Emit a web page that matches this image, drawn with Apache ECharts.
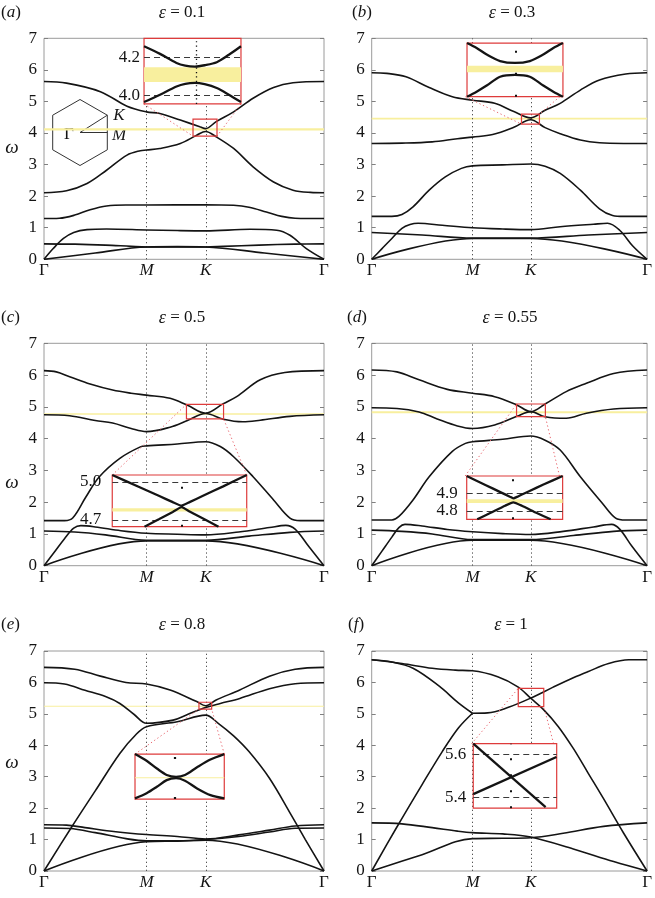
<!DOCTYPE html>
<html><head><meta charset="utf-8">
<script src="https://cdn.jsdelivr.net/npm/echarts@6/dist/echarts.min.js"></script>
<style>html,body{margin:0;padding:0;background:#fff}#c{width:655px;height:898px}</style>
</head><body><div id="c"></div>
<script>
// ---------- path & ticks ----------
const XMAX = 1 + Math.sqrt(3);      // Γ→M (1) + M→K (1/√3) + K→Γ (2/√3)
const KPOS = 1 + 1 / Math.sqrt(3);
const pathTicks = [0, 1, KPOS, XMAX];
const pathNames = ['Γ', 'M', 'K', 'Γ'];
const epsValues = ['0.1', '0.3', '0.5', '0.55', '0.8', '1'];
const panelLetters = ['a', 'b', 'c', 'd', 'e', 'f'];

// ---------- panel (a) ε=0.1 ----------
const a_b1 = [[0,0],[0.5,0.2],[1,0.39],[1.3,0.4],[1.577,0.39],[2.15,0.2],[2.732,0]];
const a_b2 = [[0,0.49],[0.3,0.48],[0.6,0.45],[0.85,0.41],[1,0.39],[1.577,0.39],[1.75,0.41],[2.1,0.45],[2.45,0.48],[2.732,0.49]];
const a_b3 = [[0,0],[0.09,0.34],[0.19,0.66],[0.29,0.85],[0.42,0.94],[0.61,0.96],[1,0.93],[1.3,0.91],[1.577,0.9],[2.01,0.95],[2.27,0.92],[2.4,0.76],[2.56,0.34],[2.732,0]];
const a_b4 = [[0,1.29],[0.15,1.3],[0.3,1.4],[0.45,1.57],[0.61,1.69],[0.8,1.72],[1,1.72],[1.577,1.73],[1.85,1.71],[2.0,1.65],[2.17,1.5],[2.32,1.36],[2.45,1.3],[2.732,1.29]];
const a_b5 = [[0,2.11],[0.22,2.17],[0.42,2.4],[0.61,2.82],[0.81,3.3],[0.94,3.44],[1,3.46],[1.13,3.51],[1.33,3.67],[1.49,3.93],[1.577,4.05],[1.68,3.88],[1.85,3.51],[2.04,2.93],[2.24,2.45],[2.43,2.19],[2.6,2.12],[2.732,2.11]];
const a_b6 = [[0,5.63],[0.22,5.58],[0.55,5.31],[0.81,4.85],[1,4.67],[1.13,4.62],[1.33,4.41],[1.52,4.2],[1.577,4.14],[1.68,4.36],[1.85,4.67],[2.04,5.1],[2.24,5.44],[2.43,5.59],[2.732,5.63]];
const a_gap = [4.08, 4.15];
const a_zoomUp = [[-1,4.26],[-0.67,4.22],[-0.33,4.172],[-0.15,4.158],[0.05,4.153],[0.25,4.16],[0.5,4.176],[0.75,4.215],[1,4.26]];
const a_zoomLo = [[-1,3.966],[-0.67,4.005],[-0.33,4.048],[-0.15,4.062],[0.05,4.067],[0.25,4.06],[0.5,4.04],[0.75,4.005],[1,3.966]];
const a_zoomGap = [4.072, 4.150];
const a_zoomTicks = [4.0, 4.2];

// ---------- panel (b) ε=0.3 ----------
const b_b1 = [[0,0],[1,0.66],[1.577,0.66],[2.732,0]];
const b_b2 = [[0,0.85],[0.5,0.77],[1,0.67],[1.577,0.67],[2.15,0.77],[2.732,0.85]];
const b_b3 = [[0,0],[0.1,0.33],[0.2,0.66],[0.3,0.98],[0.38,1.1],[0.46,1.14],[0.7,1.08],[1,1.0],[1.3,0.96],[1.577,0.94],[1.87,1.03],[2.2,1.11],[2.34,1.14],[2.46,0.92],[2.59,0.42],[2.732,0]];
const b_b4 = [[0,1.36],[0.2,1.36],[0.3,1.42],[0.41,1.66],[0.57,2.19],[0.73,2.61],[0.89,2.88],[1,2.96],[1.3,2.99],[1.577,3.02],[1.72,2.95],[1.87,2.72],[2.07,2.19],[2.26,1.6],[2.39,1.39],[2.5,1.36],[2.732,1.36]];
const b_b5 = [[0,3.67],[0.3,3.68],[0.6,3.72],[0.85,3.82],[1,3.87],[1.2,3.95],[1.41,4.18],[1.577,4.42],[1.72,4.17],[1.87,3.98],[2.07,3.78],[2.26,3.69],[2.5,3.67],[2.732,3.67]];
const b_b6 = [[0,5.91],[0.15,5.89],[0.34,5.78],[0.57,5.44],[0.8,5.15],[1,5.04],[1.22,4.94],[1.41,4.68],[1.577,4.48],[1.72,4.72],[1.87,4.94],[2.07,5.36],[2.26,5.68],[2.52,5.87],[2.732,5.91]];
const b_gap = [4.43, 4.48];
const b_zoomUp = [[-1,4.54],[-0.8,4.527],[-0.59,4.51],[-0.31,4.493],[0,4.488],[0.31,4.493],[0.59,4.51],[0.8,4.527],[1,4.54]];
const b_zoomLo = [[-1,4.40],[-0.8,4.413],[-0.59,4.429],[-0.31,4.452],[0,4.457],[0.31,4.452],[0.59,4.429],[0.8,4.413],[1,4.40]];
const b_zoomGap = [4.464, 4.481];
const b_zoomTicks = [];

// ---------- panel (c) ε=0.5 ----------
const c_b1 = [[0,0],[1,0.78],[1.577,0.78],[2.732,0]];
const c_b2 = [[0,1.09],[0.3,1.06],[0.6,0.97],[1,0.8],[1.577,0.8],[2.0,0.93],[2.4,1.05],[2.732,1.09]];
const c_b3 = [[0,0],[0.1,0.42],[0.2,0.85],[0.29,1.18],[0.36,1.26],[0.5,1.22],[0.75,1.1],[1,1.02],[1.3,0.99],[1.577,0.97],[1.9,1.06],[2.2,1.2],[2.36,1.27],[2.45,1.15],[2.58,0.62],[2.732,0]];
const c_b4 = [[0,1.42],[0.2,1.42],[0.28,1.5],[0.41,2.17],[0.54,2.8],[0.74,3.38],[0.94,3.74],[1,3.77],[1.3,3.83],[1.577,3.9],[1.72,3.75],[1.85,3.43],[2.04,2.8],[2.24,2.07],[2.4,1.5],[2.5,1.42],[2.732,1.42]];
const c_b5 = [[0,4.75],[0.25,4.72],[0.5,4.57],[0.67,4.49],[0.85,4.32],[1,4.22],[1.23,4.36],[1.4,4.57],[1.577,4.79],[1.75,4.61],[1.94,4.53],[2.11,4.58],[2.4,4.7],[2.732,4.75]];
const c_b6 = [[0,6.14],[0.12,6.1],[0.25,5.95],[0.45,5.72],[0.67,5.53],[0.85,5.43],[1,5.37],[1.23,5.27],[1.4,5.05],[1.577,4.8],[1.75,5.1],[1.88,5.32],[2.11,5.85],[2.35,6.08],[2.732,6.14]];
const c_gap = [4.75, 4.80];
const c_zoomUp = [[-1,5.055],[-0.6,4.96],[-0.3,4.888],[-0.1,4.84],[0.03,4.812],[0.15,4.84],[0.35,4.89],[0.65,4.965],[1,5.055]];
const c_zoomLo = [[-0.52,4.645],[-0.3,4.706],[-0.1,4.762],[0.03,4.8],[0.15,4.766],[0.35,4.71],[0.58,4.645]];
const c_zoomGap = [4.765, 4.792];
const c_zoomTicks = [4.7, 5.0];

// ---------- panel (d) ε=0.55 ----------
const d_b1 = [[0,0],[1,0.8],[1.577,0.8],[2.732,0]];
const d_b2 = [[0,1.12],[0.3,1.08],[0.6,1.0],[1,0.82],[1.577,0.82],[2.0,0.95],[2.4,1.08],[2.732,1.12]];
const d_b3 = [[0,0],[0.1,0.45],[0.2,0.9],[0.27,1.2],[0.33,1.3],[0.5,1.25],[0.75,1.14],[1,1.07],[1.3,1.01],[1.577,0.98],[1.9,1.08],[2.2,1.22],[2.38,1.3],[2.46,1.15],[2.58,0.62],[2.732,0]];
const d_b4 = [[0,1.44],[0.2,1.44],[0.27,1.55],[0.41,2.07],[0.57,2.8],[0.8,3.6],[0.93,3.85],[1,3.9],[1.3,3.98],[1.577,4.08],[1.72,3.95],[1.87,3.64],[2.07,2.8],[2.29,1.96],[2.42,1.5],[2.52,1.44],[2.732,1.44]];
const d_b5 = [[0,4.97],[0.25,4.95],[0.47,4.84],[0.65,4.62],[0.85,4.4],[1,4.32],[1.22,4.43],[1.44,4.7],[1.577,4.85],[1.72,4.69],[1.93,4.64],[2.13,4.8],[2.4,4.93],[2.732,4.97]];
const d_b6 = [[0,6.16],[0.25,6.1],[0.47,5.85],[0.75,5.55],[1,5.43],[1.22,5.32],[1.44,5.06],[1.577,4.85],[1.72,5.09],[1.93,5.48],[2.13,5.74],[2.4,6.05],[2.732,6.16]];
const d_gap = [4.80, 4.86];
const d_zoomUp = [[-1,4.998],[-0.6,4.946],[-0.3,4.907],[-0.1,4.881],[-0.03,4.872],[0.05,4.88],[0.3,4.912],[0.6,4.95],[1,4.998]];
const d_zoomLo = [[-0.78,4.753],[-0.5,4.79],[-0.2,4.83],[-0.03,4.849],[0.15,4.83],[0.45,4.79],[0.75,4.753]];
const d_zoomGap = [4.845, 4.866];
const d_zoomTicks = [4.8, 4.9];

// ---------- panel (e) ε=0.8 ----------
const e_b1 = [[0,0],[1,0.93],[1.3,0.95],[1.577,0.98],[2.732,0]];
const e_b2 = [[0,1.47],[0.22,1.46],[0.4,1.38],[0.7,1.25],[1,1.16],[1.3,1.1],[1.577,1.02],[1.9,1.15],[2.2,1.3],[2.45,1.43],[2.732,1.47]];
const e_b3 = [[0,1.37],[0.25,1.35],[0.5,1.22],[0.8,1.03],[1,0.96],[1.3,0.96],[1.577,1.0],[1.9,1.1],[2.2,1.24],[2.45,1.36],[2.732,1.37]];
const e_b4 = [[0,0],[0.27,1.4],[0.5,2.55],[0.74,3.74],[0.9,4.35],[1,4.59],[1.3,4.75],[1.577,4.96],[1.7,4.7],[1.85,4.3],[2.0,3.8],[2.2,2.95],[2.4,1.85],[2.55,1.0],[2.732,0]];
const e_b5 = [[0,5.99],[0.2,5.95],[0.4,5.75],[0.6,5.55],[0.74,5.33],[0.88,4.98],[1,4.7],[1.26,4.8],[1.4,4.98],[1.577,5.2],[1.72,5.33],[1.91,5.49],[2.2,5.8],[2.45,5.96],[2.732,5.99]];
const e_b6 = [[0,6.48],[0.3,6.42],[0.55,6.2],[0.8,6.0],[1,5.95],[1.23,5.76],[1.49,5.39],[1.577,5.26],[1.68,5.44],[1.91,5.76],[2.2,6.2],[2.45,6.42],[2.732,6.48]];
const e_gap = [5.225, 5.255];
const e_zoomUp = [[-1,5.30],[-0.74,5.279],[-0.51,5.255],[-0.29,5.235],[-0.08,5.229],[0.12,5.235],[0.39,5.259],[0.69,5.283],[1,5.30]];
const e_zoomLo = [[-1,5.162],[-0.74,5.178],[-0.51,5.198],[-0.29,5.219],[-0.08,5.225],[0.12,5.217],[0.39,5.193],[0.69,5.172],[1,5.162]];
const e_zoomGap = [5.2245, 5.2275];
const e_zoomTicks = [];

// ---------- panel (f) ε=1 ----------
const f_b1 = [[0,0],[0.5,0.52],[1,1.03],[1.3,1.04],[1.577,1.06],[1.9,1.2],[2.3,1.42],[2.732,1.53]];
const f_b2 = [[0,1.53],[0.3,1.5],[0.6,1.38],[0.85,1.27],[1,1.22],[1.3,1.18],[1.577,1.08],[2.0,0.7],[2.4,0.3],[2.732,0]];
const f_b3 = [[0,0],[0.25,1.4],[0.5,2.75],[0.7,3.8],[0.86,4.55],[1,5.02]];
const f_b4 = [[0,6.72],[0.2,6.65],[0.41,6.45],[0.67,5.88],[0.86,5.35],[1,5.02]];
const f_b5 = [[1,5.02],[1.15,5.03],[1.35,5.2],[1.577,5.5],[1.8,5.85],[2.0,6.15],[2.15,6.35],[2.35,6.6],[2.55,6.72],[2.732,6.72]];
const f_b6 = [[0,6.72],[0.3,6.6],[0.6,6.45],[0.83,6.39],[1,6.37],[1.25,6.18],[1.45,5.86],[1.577,5.5],[1.7,5.15],[1.85,4.6],[2.0,3.9],[2.15,3.1],[2.3,2.3],[2.5,1.2],[2.732,0]];
const f_gap = null;
const f_zoomUp = [[-1,5.648],[0.735,5.354]];
const f_zoomLo = [[-1,5.414],[0.995,5.586]];
const f_zoomGap = null;
const f_zoomTicks = [5.4, 5.6];

// ---------- assemble (styling / layout below) ----------
const panels = [
  {bands:[a_b1,a_b2,a_b3,a_b4,a_b5,a_b6], gap:a_gap, zUp:a_zoomUp, zLo:a_zoomLo, zGap:a_zoomGap, zTicks:a_zoomTicks},
  {bands:[b_b1,b_b2,b_b3,b_b4,b_b5,b_b6], gap:b_gap, zUp:b_zoomUp, zLo:b_zoomLo, zGap:b_zoomGap, zTicks:b_zoomTicks},
  {bands:[c_b1,c_b2,c_b3,c_b4,c_b5,c_b6], gap:c_gap, zUp:c_zoomUp, zLo:c_zoomLo, zGap:c_zoomGap, zTicks:c_zoomTicks},
  {bands:[d_b1,d_b2,d_b3,d_b4,d_b5,d_b6], gap:d_gap, zUp:d_zoomUp, zLo:d_zoomLo, zGap:d_zoomGap, zTicks:d_zoomTicks},
  {bands:[e_b1,e_b2,e_b3,e_b4,e_b5,e_b6], gap:e_gap, zUp:e_zoomUp, zLo:e_zoomLo, zGap:e_zoomGap, zTicks:e_zoomTicks},
  {bands:[f_b1,f_b2,f_b3,f_b4,f_b5,f_b6], gap:f_gap, zUp:f_zoomUp, zLo:f_zoomLo, zGap:f_zoomGap, zTicks:f_zoomTicks}
];

// layout (pixels) of the six main plots
const layout = [
  {left:44, top:38.3, width:280, height:221},
  {left:371.7, top:38.3, width:280, height:221},
  {left:44, top:343.3, width:280, height:222.4},
  {left:371.7, top:343.3, width:280, height:222.4},
  {left:44, top:651, width:280, height:220},
  {left:371.7, top:651, width:280, height:220}
];
// inset placement (in main-plot data units), inset axis range, zoom box, connector corners
const insetLayout = [
  {px:[0.976,1.922], py:[4.92,7.0], yr:[3.956,4.302], bx:[1.454,1.688], by:[3.90,4.44], conn:[['BL','BL'],['BR','BR']], cx:0.07, dot:[1.2,3.2], dw:1.3, lm:4, smooth:0.3},
  {px:[0.93,1.866], py:[5.15,6.85], yr:[4.40,4.54], bx:[1.486,1.664], by:[4.28,4.60], conn:[['BL','BL'],['BR','TR']], cx:0.02, dot:[2,20], dw:2, lm:4, smooth:0.3},
  {px:[0.666,1.978], py:[1.228,2.855], yr:[4.645,5.055], bx:[1.39,1.752], by:[4.62,5.08], conn:[['TL','TL'],['TR','BR']], cx:0.04, dot:[2,17], dw:2, lm:11, smooth:0.15},
  {px:[0.927,1.863], py:[1.46,2.823], yr:[4.753,4.998], bx:[1.437,1.723], by:[4.69,5.09], conn:[['TL','TL'],['TR','BR']], cx:-0.03, dot:[2,36], dw:2, lm:9, smooth:0.15},
  {px:[0.888,1.759], py:[2.29,3.72], yr:[5.16,5.30], bx:[1.512,1.636], by:[5.15,5.37], conn:[['TL','BL'],['TR','BR']], cx:-0.1, dot:[2,38], dw:2.2, lm:4, smooth:0.3},
  {px:[0.991,1.805], py:[2.0,4.05], yr:[5.349,5.648], bx:[1.454,1.707], by:[5.23,5.81], conn:[['TL','TL'],['TR','BR']], cx:-0.09, dot:[2,14], dw:2, lm:7, smooth:0}
];

const SERIF = "'Liberation Serif','Times New Roman',serif";
const INK = '#141414';
const RED = '#de3b3b';
const PINK = '#ea6a72';
const YEL = '#f8ef9e';
const FS = 17;

function toPx(L, x, y) { return [L.left + x / XMAX * L.width, L.top + (7 - y) / 7 * L.height]; }
function corner(xr, yr, c) {
  return [c[1] === 'L' ? xr[0] : xr[1], c[0] === 'T' ? yr[1] : yr[0]];
}

const grids = [], xAxes = [], yAxes = [], series = [];
const richI = {i:{fontStyle:'italic', fontFamily:SERIF, fontSize:FS, color:INK}};

panels.forEach((p, i) => {
  const L = layout[i];
  grids.push({left:L.left, top:L.top, width:L.width, height:L.height, show:true, borderColor:'#9a9a9a', borderWidth:1, backgroundColor:'transparent'});
  xAxes.push({gridIndex:i, type:'value', min:0, max:XMAX,
    axisLine:{show:false}, axisTick:{show:false}, splitLine:{show:false},
    axisLabel:{customValues:pathTicks, margin:3, fontFamily:SERIF, fontSize:FS, color:INK, rich:richI,
      formatter:(v) => { let k = 0, best = 1e9; pathTicks.forEach((t, j) => { const d = Math.abs(t - v); if (d < best) { best = d; k = j; } });
        const n = pathNames[k]; return (n === 'M' || n === 'K') ? '{i|' + n + '}' : n; }}});
  yAxes.push({gridIndex:i, type:'value', min:0, max:7, interval:1,
    axisLine:{show:false}, splitLine:{show:false},
    axisTick:{show:true, inside:true, length:4, lineStyle:{color:'#808080'}},
    axisLabel:{margin:7, fontFamily:SERIF, fontSize:FS, color:INK}});
});
panels.forEach((p, i) => {
  yAxes.push({gridIndex:i, type:'value', position:'right', min:0, max:7, interval:1,
    axisLine:{show:false}, splitLine:{show:false}, axisLabel:{show:false},
    axisTick:{show:true, inside:true, length:4, lineStyle:{color:'#808080'}}});
});

panels.forEach((p, i) => {
  const L = layout[i], I = insetLayout[i];
  // yellow gap band
  if (p.gap) {
    series.push({type:'line', xAxisIndex:i, yAxisIndex:i, data:[[0, p.gap[0]]], showSymbol:false, silent:true, z:1,
      lineStyle:{opacity:0},
      markArea:{silent:true, z:1, itemStyle:{color:YEL}, data:[[{xAxis:0, yAxis:p.gap[0]}, {xAxis:XMAX, yAxis:p.gap[1]}]]}});
  }
  // dotted M and K guides
  series.push({type:'line', xAxisIndex:i, yAxisIndex:i, data:[[1, 0]], showSymbol:false, silent:true, z:2,
    lineStyle:{opacity:0},
    markLine:{silent:true, z:2, symbol:['none','none'], label:{show:false},
      lineStyle:{color:'#555', type:[1.3,2.7], width:1}, data:[{xAxis:1}, {xAxis:KPOS}]}});
  // bands
  p.bands.forEach(b => {
    series.push({type:'line', xAxisIndex:i, yAxisIndex:i, data:b, smooth:0.35, showSymbol:false, silent:true, z:3,
      lineStyle:{color:INK, width:1.6}});
  });
  // zoom box
  series.push({type:'line', xAxisIndex:i, yAxisIndex:i, data:[[I.bx[0], I.by[0]]], showSymbol:false, silent:true, z:6,
    lineStyle:{opacity:0},
    markArea:{silent:true, z:6, itemStyle:{color:'rgba(0,0,0,0)', borderColor:RED, borderWidth:1.2},
      data:[[{xAxis:I.bx[0], yAxis:I.by[0]}, {xAxis:I.bx[1], yAxis:I.by[1]}]]}});
  // connectors
  I.conn.forEach(c => {
    series.push({type:'line', xAxisIndex:i, yAxisIndex:i, showSymbol:false, silent:true, z:4,
      data:[corner(I.px, I.py, c[0]), corner(I.bx, I.by, c[1])],
      lineStyle:{color:PINK, width:1, type:[1.3,2.6]}});
  });

  // ----- inset -----
  const tl = toPx(L, I.px[0], I.py[1]), br = toPx(L, I.px[1], I.py[0]);
  const gi = 6 + i;
  grids.push({left:tl[0], top:tl[1], width:br[0] - tl[0], height:br[1] - tl[1], show:true,
    backgroundColor:'#fff', borderColor:RED, borderWidth:1.2, zlevel:1, z:0});
  xAxes.push({gridIndex:gi, type:'value', min:-1, max:1, show:false, zlevel:1});
  yAxes.push({gridIndex:gi, type:'value', min:I.yr[0], max:I.yr[1], zlevel:1,
    axisLine:{show:false}, axisTick:{show:false}, splitLine:{show:false},
    axisLabel: p.zTicks.length ? {show:true, customValues:p.zTicks, formatter:v => v.toFixed(1), margin:I.lm,
      fontFamily:SERIF, fontSize:FS, color:INK} : {show:false}});
  const mlData = p.zTicks.map(v => ({yAxis:v, lineStyle:{type:[6,4], color:'#3a3a3a', width:1}}));
  mlData.push({xAxis:I.cx, lineStyle:{type:I.dot, color:'#111', width:I.dw}});
  const host = {type:'line', xAxisIndex:gi, yAxisIndex:12 + i, data:[[0, I.yr[0]]], showSymbol:false, silent:true,
    zlevel:1, z:2, lineStyle:{opacity:0},
    markLine:{silent:true, zlevel:1, z:3, symbol:['none','none'], label:{show:false}, data:mlData}};
  if (p.zGap) host.markArea = {silent:true, zlevel:1, z:1, itemStyle:{color:YEL}, data:[[{xAxis:-1, yAxis:p.zGap[0]}, {xAxis:1, yAxis:p.zGap[1]}]]};
  series.push(host);
  [p.zUp, p.zLo].forEach(d => {
    series.push({type:'line', xAxisIndex:gi, yAxisIndex:12 + i, data:d, smooth:I.smooth, showSymbol:false, silent:true,
      zlevel:1, z:5, lineStyle:{color:INK, width:2.3}});
  });
});

// ---------- texts & BZ sketch ----------
const titlePos = [[1,13,182,13],[352,13,512,13],[1,318,182,318],[347,318,510,318],[1,625,182,625],[348,625,511,625]];
const omegaY = [148, 483, 763];
const elements = [];
titlePos.forEach((t, i) => {
  elements.push({type:'text', x:t[0], y:t[1], silent:true,
    style:{text:'({i|' + panelLetters[i] + '})', font:FS + 'px ' + SERIF, fill:INK, align:'left', verticalAlign:'middle', rich:richI}});
  elements.push({type:'text', x:t[2], y:t[3], silent:true,
    style:{text:'{i|ε} = ' + epsValues[i], font:'17px ' + SERIF, fill:INK, align:'center', verticalAlign:'middle',
      rich:{i:{fontStyle:'italic', fontFamily:SERIF, fontSize:18, color:INK}}}});
});
omegaY.forEach(y => {
  elements.push({type:'text', x:12, y:y, silent:true,
    style:{text:'ω', font:'italic 19px ' + SERIF, fill:INK, align:'center', verticalAlign:'middle'}});
});
// Brillouin-zone sketch in panel (a)
elements.push({type:'polyline', silent:true, shape:{points:[[80,99.5],[107.3,115.2],[107.3,149.8],[80,165.5],[52.7,149.8],[52.7,115.2],[80,99.5]]},
  style:{stroke:'#333', fill:null, lineWidth:1}});
elements.push({type:'polyline', silent:true, shape:{points:[[107.3,115.2],[80,132.5],[107.3,132.5]]},
  style:{stroke:'#333', fill:null, lineWidth:1}});
elements.push({type:'text', x:69, y:135, silent:true, style:{text:'Γ', font:FS + 'px ' + SERIF, fill:INK, align:'center', verticalAlign:'middle'}});
elements.push({type:'text', x:119, y:116, silent:true, style:{text:'K', font:'italic ' + FS + 'px ' + SERIF, fill:INK, align:'center', verticalAlign:'middle'}});
elements.push({type:'text', x:119, y:136, silent:true, style:{text:'M', font:'italic ' + FS + 'px ' + SERIF, fill:INK, align:'center', verticalAlign:'middle'}});

const chart = echarts.init(document.getElementById('c'), null, {renderer:'canvas'});
chart.setOption({
  animation:false,
  backgroundColor:'#fff',
  grid:grids, xAxis:xAxes, yAxis:yAxes, series:series,
  graphic:{elements:elements}
});
</script>
</body></html>
